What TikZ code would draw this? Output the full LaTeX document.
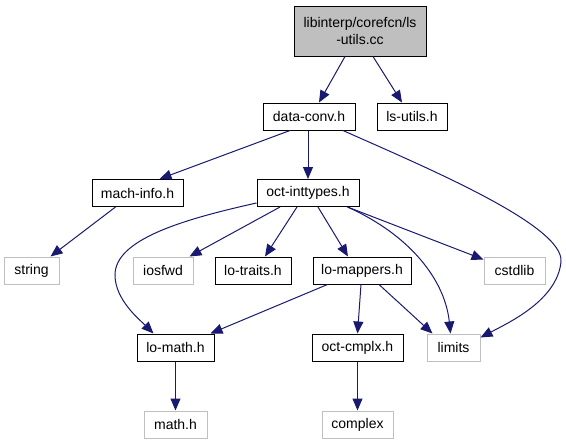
\documentclass[tikz,border=0pt]{standalone}
\usepackage{fontspec}
\setmainfont{Liberation Sans}
\usetikzlibrary{arrows.meta}
\definecolor{edgeblue}{HTML}{191970}
\definecolor{lightgr}{HTML}{BFBFBF}
\begin{document}
\begin{tikzpicture}[x=1pt,y=-1pt,
  box/.style={draw=black,line width=1pt,fill=white,inner sep=0pt,minimum height=27pt,font=\fontsize{14}{17}\selectfont,text=black},
  sysbox/.style={box,draw=lightgr},
  rootbox/.style={box,fill=lightgr,minimum height=50pt,align=center},
  edge/.style={draw=edgeblue,line width=1pt,-{Triangle[length=12pt,width=10pt]}}]
\useasboundingbox (0,0) rectangle (566,445);
\node[rootbox,minimum width=132pt] (root) at (360,31) {libinterp/corefcn/ls\\-utils.cc};
\node[box,minimum width=92pt] (dc) at (309,116.5) {data-conv.h};
\node[box,minimum width=70pt] (ls) at (412,116.5) {ls-utils.h};
\node[box,minimum width=91pt] (mi) at (137.5,193) {mach-info.h};
\node[box,minimum width=102pt] (oi) at (308,193) {oct-inttypes.h};
\node[sysbox,minimum width=55pt] (str) at (31.5,270.5) {string};
\node[sysbox,minimum width=60pt] (ios) at (163,270.5) {iosfwd};
\node[box,minimum width=76pt] (lt) at (253,270.5) {lo-traits.h};
\node[box,minimum width=98pt] (lm) at (362,270.5) {lo-mappers.h};
\node[sysbox,minimum width=61pt] (cst) at (514.5,270.5) {cstdlib};
\node[box,minimum width=77pt] (lmath) at (175.5,347.5) {lo-math.h};
\node[box,minimum width=91pt] (oc) at (357.5,347.5) {oct-cmplx.h};
\node[sysbox,minimum width=53pt] (lim) at (453.5,347.5) {limits};
\node[sysbox,minimum width=63pt] (mh) at (175.5,424.5) {math.h};
\node[sysbox,minimum width=71pt] (cx) at (357.5,424.5) {complex};

\draw[edge] ([xshift=-15pt]root.south) -- ([xshift=10pt]dc.north);
\draw[edge] ([xshift=13pt]root.south) -- ([xshift=-10pt]ls.north);
\draw[edge] ([xshift=-19pt]dc.south) -- ([xshift=22pt]mi.north);
\draw[edge] ([xshift=-1pt]dc.south) -- (oi.north);
\draw[edge] ([xshift=34pt]dc.south) .. controls (420,165) and (565,225) .. (561,262)
  .. controls (557,300) and (510,322) .. ([yshift=-4pt]lim.north east);
\draw[edge] ([xshift=-22pt]mi.south) -- ([xshift=-9pt]str.north east);
\draw[edge] ([yshift=4pt]oi.south west) .. controls (180,220) and (115,240) .. (115,275)
  .. controls (115,300) and (140,320) .. ([xshift=-22pt]lmath.north);
\draw[edge] ([xshift=-28pt]oi.south) -- ([xshift=-4pt]ios.north east);
\draw[edge] ([xshift=-11pt]oi.south) -- ([xshift=12pt]lt.north);
\draw[edge] ([xshift=10pt]oi.south) -- ([xshift=-14pt]lm.north);
\draw[edge] ([xshift=-12pt]oi.south east) -- ([yshift=-3pt]cst.north west);
\draw[edge] ([xshift=-12pt]oi.south east) .. controls (410,235) and (445,280) .. ([xshift=-3pt]lim.north);
\draw[edge] ([xshift=15pt]lm.south west) -- ([xshift=-4pt]lmath.north east);
\draw[edge] ([xshift=-1pt]lm.south) -- (oc.north);
\draw[edge] ([xshift=17pt]lm.south) -- ([xshift=6pt]lim.north west);
\draw[edge] (lmath.south) -- (mh.north);
\draw[edge] (oc.south) -- (cx.north);
\end{tikzpicture}
\end{document}
